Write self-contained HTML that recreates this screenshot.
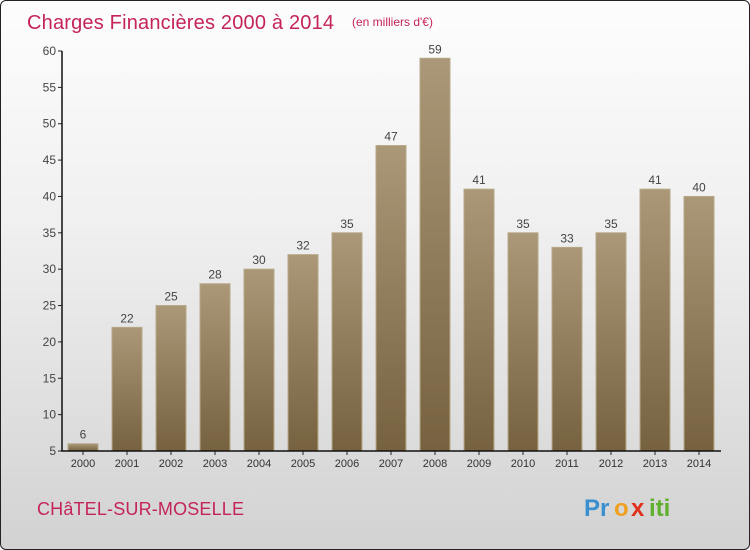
<!DOCTYPE html>
<html><head><meta charset="utf-8"><style>
body{margin:0;width:750px;height:550px;overflow:hidden;font-family:"Liberation Sans",sans-serif}
#wrap{position:absolute;left:0;top:0;width:748px;height:548px;border:1px solid #222;border-radius:6px;background:linear-gradient(#fdfdfd,#f0f0f0 40%,#d2d2d2);overflow:hidden}
</style></head><body>
<div id="wrap">
<svg width="750" height="550" id="svg">
<defs><linearGradient id="bg" x1="0" y1="0" x2="0" y2="1"><stop offset="0" stop-color="#ab9878"/><stop offset="1" stop-color="#76623f"/></linearGradient></defs>
<text x="26" y="28" font-size="20" fill="#c4245a" textLength="307">Charges Financières 2000 à 2014</text>
<text x="351" y="25" font-size="12" fill="#c4245a">(en milliers d'€)</text>
<text x="36" y="514" font-size="18" fill="#c4245a" textLength="207">CHâTEL-SUR-MOSELLE</text>
<g font-size="24" font-weight="bold">
<text x="583" y="515" fill="#3a8fd0">Pr</text><text x="613" y="515" fill="#f0a020">o</text><text x="630" y="515" fill="#e0301e">x</text><text x="648" y="515" fill="#60b030">iti</text>
</g>
<g id="plot"></g>
</svg>
</div>
<script>
const years=["2000","2001","2002","2003","2004","2005","2006","2007","2008","2009","2010","2011","2012","2013","2014"];
const values=[6,22,25,28,30,32,35,47,59,41,35,33,35,41,40];
const ticks=[5,10,15,20,25,30,35,40,45,50,55,60];
const NS="http://www.w3.org/2000/svg";
const g=document.getElementById('plot');
const y=v=>450-(v-5)*400/55;
const x=i=>82+i*44;
function mk(t,a,txt){const e=document.createElementNS(NS,t);for(const k in a)e.setAttribute(k,a[k]);if(txt!==undefined)e.textContent=txt;g.appendChild(e);return e;}
values.forEach((v,i)=>{
 const r=mk('rect',{x:x(i)-15,y:y(v),width:30,height:450-y(v),fill:'url(#bg)',stroke:'#b8a888','stroke-width':1});
 
 
 const t=mk('text',{x:x(i),y:y(v)-5,'text-anchor':'middle','font-size':12,fill:'#444'},v);
 
 
 const l=mk('text',{x:x(i),y:466,'text-anchor':'middle','font-size':11,fill:'#333'},years[i]);
 
 
 mk('line',{x1:x(i),x2:x(i),y1:450,y2:454,stroke:'#222'});
});
ticks.forEach(v=>{
 mk('line',{x1:57,x2:61,y1:y(v),y2:y(v),stroke:'#222'});
 const t=mk('text',{x:55,y:y(v)+4,'text-anchor':'end','font-size':12,fill:'#444'},v);
 
 
});
const ax=mk('path',{d:'M61 50V450H720',fill:'none',stroke:'#111','stroke-width':1.5});


</script>
</body></html>
